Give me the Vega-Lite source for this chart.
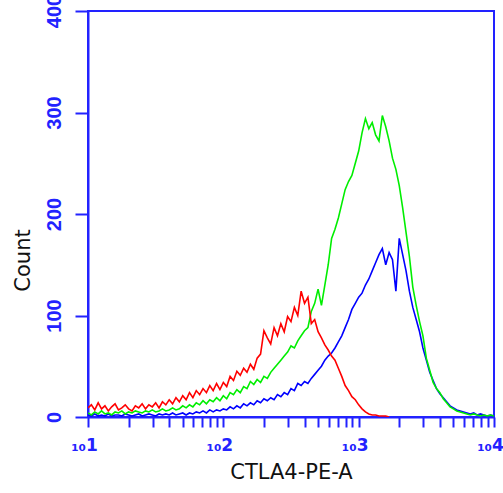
{
"$schema": "https://vega.github.io/schema/vega-lite/v6.json",
"width": 406, "height": 406,
"autosize": {"type": "none"},
"padding": {"left": 88, "top": 11, "right": 9, "bottom": 76},
"background": "white",
"config": {"view": {"stroke": "#2222ff", "strokeWidth": 2}},
"datasets": {
"red": [
{"x":10,"y":9},{"x":10.59,"y":12},{"x":11.22,"y":7},{"x":11.89,"y":14},{"x":12.59,"y":8},{"x":13.34,"y":11},{"x":14.13,"y":6},{"x":14.96,"y":10},{"x":15.85,"y":13},{"x":16.79,"y":7},
{"x":17.78,"y":9},{"x":18.84,"y":12},{"x":19.95,"y":8},{"x":21.14,"y":6},{"x":22.39,"y":11},{"x":23.71,"y":9},{"x":25.12,"y":13},{"x":26.61,"y":8},{"x":28.18,"y":12},{"x":29.85,"y":10},
{"x":31.62,"y":14},{"x":33.5,"y":9},{"x":35.48,"y":15},{"x":37.58,"y":12},{"x":39.81,"y":17},{"x":42.17,"y":13},{"x":44.67,"y":19},{"x":47.32,"y":15},{"x":50.12,"y":21},{"x":53.09,"y":17},
{"x":56.23,"y":24},{"x":59.57,"y":19},{"x":63.1,"y":26},{"x":66.83,"y":22},{"x":70.79,"y":28},{"x":74.99,"y":24},{"x":79.43,"y":31},{"x":84.14,"y":26},{"x":89.13,"y":33},{"x":94.41,"y":27},
{"x":100,"y":34},{"x":105.9,"y":30},{"x":112.2,"y":40},{"x":118.9,"y":36},{"x":125.9,"y":45},{"x":133.4,"y":41},{"x":141.3,"y":48},{"x":149.6,"y":44},{"x":158.5,"y":52},{"x":167.9,"y":47},
{"x":177.8,"y":58},{"x":188.4,"y":62},{"x":199.5,"y":85},{"x":211.4,"y":78},{"x":223.9,"y":72},{"x":237.1,"y":88},{"x":251.2,"y":80},{"x":266.1,"y":92},{"x":281.8,"y":84},{"x":298.5,"y":99},
{"x":316.2,"y":94},{"x":335,"y":108},{"x":354.8,"y":100},{"x":375.8,"y":124},{"x":398.1,"y":112},{"x":421.7,"y":118},{"x":446.7,"y":92},{"x":473.2,"y":96},{"x":501.2,"y":84},{"x":530.9,"y":78},
{"x":562.3,"y":71},{"x":595.7,"y":66},{"x":631,"y":60},{"x":668.3,"y":56},{"x":707.9,"y":48},{"x":749.9,"y":40},{"x":794.3,"y":31},{"x":841.4,"y":26},{"x":891.3,"y":20},{"x":944.1,"y":17},
{"x":1000,"y":12},{"x":1059,"y":8},{"x":1122,"y":5},{"x":1189,"y":3},{"x":1259,"y":2},{"x":1334,"y":2},{"x":1413,"y":1},{"x":1496,"y":1},{"x":1585,"y":1},{"x":1679,"y":0}
],
"green": [
{"x":10,"y":4},{"x":10.59,"y":2},{"x":11.22,"y":5},{"x":11.89,"y":3},{"x":12.59,"y":6},{"x":13.34,"y":3},{"x":14.13,"y":4},{"x":14.96,"y":2},{"x":15.85,"y":5},{"x":16.79,"y":4},
{"x":17.78,"y":6},{"x":18.84,"y":3},{"x":19.95,"y":5},{"x":21.14,"y":4},{"x":22.39,"y":6},{"x":23.71,"y":5},{"x":25.12,"y":4},{"x":26.61,"y":6},{"x":28.18,"y":5},{"x":29.85,"y":7},
{"x":31.62,"y":5},{"x":33.5,"y":6},{"x":35.48,"y":8},{"x":37.58,"y":6},{"x":39.81,"y":7},{"x":42.17,"y":9},{"x":44.67,"y":7},{"x":47.32,"y":8},{"x":50.12,"y":11},{"x":53.09,"y":9},
{"x":56.23,"y":12},{"x":59.57,"y":10},{"x":63.1,"y":14},{"x":66.83,"y":12},{"x":70.79,"y":16},{"x":74.99,"y":13},{"x":79.43,"y":17},{"x":84.14,"y":15},{"x":89.13,"y":19},{"x":94.41,"y":16},
{"x":100,"y":21},{"x":105.9,"y":18},{"x":112.2,"y":24},{"x":118.9,"y":22},{"x":125.9,"y":27},{"x":133.4,"y":24},{"x":141.3,"y":30},{"x":149.6,"y":28},{"x":158.5,"y":35},{"x":167.9,"y":32},
{"x":177.8,"y":37},{"x":188.4,"y":34},{"x":199.5,"y":40},{"x":211.4,"y":38},{"x":223.9,"y":44},{"x":237.1,"y":48},{"x":251.2,"y":52},{"x":266.1,"y":56},{"x":281.8,"y":60},{"x":298.5,"y":64},
{"x":316.2,"y":70},{"x":335,"y":68},{"x":354.8,"y":75},{"x":375.8,"y":80},{"x":398.1,"y":85},{"x":421.7,"y":88},{"x":446.7,"y":104},{"x":473.2,"y":112},{"x":501.2,"y":126},{"x":530.9,"y":110},
{"x":562.3,"y":130},{"x":595.7,"y":150},{"x":631,"y":176},{"x":668.3,"y":185},{"x":707.9,"y":196},{"x":749.9,"y":210},{"x":794.3,"y":224},{"x":841.4,"y":232},{"x":891.3,"y":238},{"x":944.1,"y":250},
{"x":1000,"y":262},{"x":1059,"y":280},{"x":1122,"y":294},{"x":1189,"y":284},{"x":1259,"y":290},{"x":1334,"y":278},{"x":1413,"y":272},{"x":1496,"y":297},{"x":1585,"y":286},{"x":1679,"y":272},
{"x":1778,"y":255},{"x":1884,"y":244},{"x":1995,"y":228},{"x":2114,"y":206},{"x":2239,"y":182},{"x":2371,"y":158},{"x":2512,"y":128},{"x":2661,"y":110},{"x":2818,"y":94},{"x":2985,"y":80},
{"x":3162,"y":58},{"x":3350,"y":46},{"x":3548,"y":34},{"x":3758,"y":28},{"x":3981,"y":24},{"x":4217,"y":18},{"x":4467,"y":14},{"x":4732,"y":10},{"x":5012,"y":8},{"x":5309,"y":6},
{"x":5623,"y":5},{"x":5957,"y":4},{"x":6310,"y":3},{"x":6683,"y":2},{"x":7079,"y":3},{"x":7499,"y":2},{"x":7943,"y":1},{"x":8414,"y":2},{"x":8913,"y":1},{"x":9441,"y":2},{"x":10000,"y":1}
],
"blue": [
{"x":10,"y":2},{"x":10.59,"y":1},{"x":11.22,"y":3},{"x":11.89,"y":1},{"x":12.59,"y":2},{"x":13.34,"y":1},{"x":14.13,"y":3},{"x":14.96,"y":1},{"x":15.85,"y":2},{"x":16.79,"y":2},
{"x":17.78,"y":1},{"x":18.84,"y":3},{"x":19.95,"y":2},{"x":21.14,"y":1},{"x":22.39,"y":2},{"x":23.71,"y":3},{"x":25.12,"y":1},{"x":26.61,"y":2},{"x":28.18,"y":3},{"x":29.85,"y":2},
{"x":31.62,"y":1},{"x":33.5,"y":3},{"x":35.48,"y":2},{"x":37.58,"y":3},{"x":39.81,"y":2},{"x":42.17,"y":4},{"x":44.67,"y":2},{"x":47.32,"y":3},{"x":50.12,"y":4},{"x":53.09,"y":2},
{"x":56.23,"y":4},{"x":59.57,"y":3},{"x":63.1,"y":5},{"x":66.83,"y":4},{"x":70.79,"y":6},{"x":74.99,"y":4},{"x":79.43,"y":7},{"x":84.14,"y":5},{"x":89.13,"y":7},{"x":94.41,"y":6},
{"x":100,"y":8},{"x":105.9,"y":7},{"x":112.2,"y":10},{"x":118.9,"y":8},{"x":125.9,"y":11},{"x":133.4,"y":9},{"x":141.3,"y":13},{"x":149.6,"y":11},{"x":158.5,"y":14},{"x":167.9,"y":12},
{"x":177.8,"y":16},{"x":188.4,"y":14},{"x":199.5,"y":18},{"x":211.4,"y":16},{"x":223.9,"y":19},{"x":237.1,"y":17},{"x":251.2,"y":22},{"x":266.1,"y":20},{"x":281.8,"y":24},{"x":298.5,"y":22},
{"x":316.2,"y":28},{"x":335,"y":26},{"x":354.8,"y":33},{"x":375.8,"y":31},{"x":398.1,"y":35},{"x":421.7,"y":33},{"x":446.7,"y":38},{"x":473.2,"y":42},{"x":501.2,"y":46},{"x":530.9,"y":50},
{"x":562.3,"y":56},{"x":595.7,"y":60},{"x":631,"y":63},{"x":668.3,"y":68},{"x":707.9,"y":74},{"x":749.9,"y":80},{"x":794.3,"y":88},{"x":841.4,"y":96},{"x":891.3,"y":106},{"x":944.1,"y":112},
{"x":1000,"y":118},{"x":1059,"y":122},{"x":1122,"y":130},{"x":1189,"y":136},{"x":1259,"y":144},{"x":1334,"y":152},{"x":1413,"y":160},{"x":1496,"y":166},{"x":1585,"y":150},{"x":1679,"y":162},
{"x":1778,"y":155},{"x":1884,"y":124},{"x":1995,"y":176},{"x":2114,"y":160},{"x":2239,"y":144},{"x":2371,"y":124},{"x":2512,"y":108},{"x":2661,"y":96},{"x":2818,"y":84},{"x":2985,"y":68},
{"x":3162,"y":56},{"x":3350,"y":44},{"x":3548,"y":36},{"x":3758,"y":28},{"x":3981,"y":23},{"x":4217,"y":19},{"x":4467,"y":15},{"x":4732,"y":11},{"x":5012,"y":9},{"x":5309,"y":7},
{"x":5623,"y":6},{"x":5957,"y":5},{"x":6310,"y":4},{"x":6683,"y":3},{"x":7079,"y":4},{"x":7499,"y":2},{"x":7943,"y":3},{"x":8414,"y":2},{"x":8913,"y":1},{"x":9441,"y":2},{"x":10000,"y":1}
]
},
"encoding": {
"x": {"field": "x", "type": "quantitative",
"scale": {"type": "log", "domain": [10, 10000], "nice": false},
"axis": {
"title": "CTLA4-PE-A",
"values": [10,20,30,40,50,60,70,80,90,100,200,300,400,500,600,700,800,900,1000,2000,3000,4000,5000,6000,7000,8000,9000,10000],
"labelExpr": "datum.value==10?'₁₀1':datum.value==100?'₁₀2':datum.value==1000?'₁₀3':datum.value==10000?'₁₀4':''",
"labelFont": "DejaVu Sans", "labelFontSize": 17, "labelFontWeight": "bold", "labelColor": "#2222ff",
"labelPadding": 10, "labelOffset": -4, "labelFlush": false, "labelOverlap": false,
"tickSize": 10, "tickColor": "#2222ff", "tickWidth": 2,
"domainColor": "#2222ff", "domainWidth": 2, "grid": false,
"titleFont": "DejaVu Sans", "titleFontSize": 21, "titleFontWeight": "normal", "titleColor": "#111111",
"titlePadding": 8
}},
"y": {"field": "y", "type": "quantitative",
"scale": {"domain": [0, 400], "nice": false},
"axis": {
"title": "Count",
"values": [0,100,200,300,400],
"labelAngle": -90, "labelAlign": "center", "labelBaseline": "middle",
"labelFont": "Liberation Sans", "labelFontSize": 20, "labelFontWeight": "bold", "labelColor": "#2222ff",
"labelPadding": 21, "labelOverlap": false, "labelFlush": false,
"tickSize": 13, "tickColor": "#2222ff", "tickWidth": 2,
"domainColor": "#2222ff", "domainWidth": 2, "grid": false,
"titleFont": "DejaVu Sans", "titleFontSize": 21, "titleFontWeight": "normal", "titleColor": "#111111",
"titleAngle": -90, "titleAlign": "center", "titleBaseline": "middle",
"titleX": -65, "titleY": 249
}}
},
"layer": [
{"data": {"name": "blue"}, "mark": {"type": "line", "color": "#0000ff", "strokeWidth": 1.6, "clip": true}},
{"data": {"name": "green"}, "mark": {"type": "line", "color": "#00ee00", "strokeWidth": 1.6, "clip": true}},
{"data": {"name": "red"}, "mark": {"type": "line", "color": "#ff0000", "strokeWidth": 1.6, "clip": true}}
]
}
